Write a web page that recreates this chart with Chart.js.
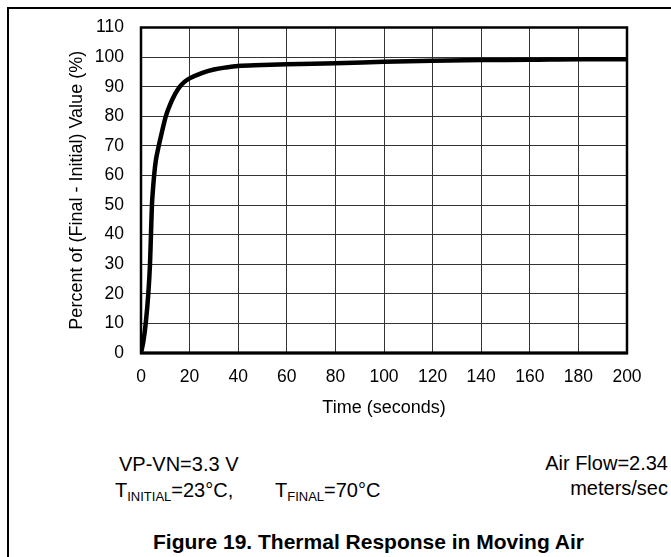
<!DOCTYPE html>
<html>
<head>
<meta charset="utf-8">
<script src="https://cdn.jsdelivr.net/npm/chart.js@4/dist/chart.umd.min.js"></script>
<style>
  html, body { margin: 0; padding: 0; background: #fff; }
  body { width: 671px; height: 557px; position: relative; overflow: hidden;
         font-family: "Liberation Sans", Arial, sans-serif; color: #000; }
  #frame { position: absolute; left: 7px; top: 7px; right: -2px; bottom: -2px;
           border-left: 2px solid #000; border-top: 2px solid #000; }
  #c { position: absolute; left: 0; top: 0; }
  .note { position: absolute; font-size: 20px; line-height: 20px; white-space: nowrap; }
  .note sub { font-size: 13px; vertical-align: -4px; line-height: 0; }
  #title { position: absolute; left: 153px; top: 531px;
           font-weight: bold; font-size: 21px; line-height: 21px; white-space: nowrap; }
</style>
</head>
<body>
<div id="frame"></div>
<canvas id="c" width="671" height="430"></canvas>
<div class="note" style="left:119px; top:454px;">VP-VN=3.3 V</div>
<div class="note" style="left:115px; top:480px;">T<sub>INITIAL</sub>=23°C,</div>
<div class="note" style="left:275px; top:480px;">T<sub>FINAL</sub>=70°C</div>
<div class="note" style="right:3px; top:453px; text-align:right;">Air Flow=2.34</div>
<div class="note" style="right:3px; top:478px; text-align:right;">meters/sec</div>
<div id="title">Figure 19. Thermal Response in Moving Air</div>
<script>
// Data
const timeSeconds = [0, 1, 2, 3, 3.7, 4.1, 4.5, 4.9, 5.4, 6.1, 7.3, 8.7, 10.2, 12, 14, 16, 18, 20, 25, 30, 35, 40, 50, 60, 80, 100, 120, 140, 160, 180, 200];
const percentValue = [0, 4, 10.5, 20, 30, 40, 50, 55, 60, 65, 70, 75, 80, 84, 87.5, 90, 91.7, 92.8, 94.6, 95.8, 96.5, 97, 97.3, 97.6, 97.9, 98.4, 98.8, 99.0, 99.1, 99.3, 99.3];
const xTicks = [0, 20, 40, 60, 80, 100, 120, 140, 160, 180, 200];
const yTicks = [0, 10, 20, 30, 40, 50, 60, 70, 80, 90, 100, 110];
const xTitle = 'Time (seconds)';
const yTitle = 'Percent of (Final - Initial) Value (%)';

const points = timeSeconds.map((t, i) => ({ x: t, y: percentValue[i] }));
const FONT = '"Liberation Sans", Arial, sans-serif';

const frameBox = {
  id: 'frameBox',
  afterDraw(chart) {
    const { ctx, chartArea: a } = chart;
    ctx.save();
    ctx.strokeStyle = '#000';
    ctx.lineWidth = 2.5;
    ctx.strokeRect(a.left, a.top, a.right - a.left, a.bottom - a.top);
    ctx.lineWidth = 3;
    ctx.beginPath();
    ctx.moveTo(a.left - 1, a.bottom);
    ctx.lineTo(a.right + 1, a.bottom);
    ctx.stroke();
    ctx.restore();
  }
};

new Chart(document.getElementById('c'), {
  type: 'line',
  data: {
    datasets: [{
      data: points,
      borderColor: '#000',
      borderWidth: 4.5,
      pointRadius: 0,
      fill: false,
      cubicInterpolationMode: 'monotone'
    }]
  },
  options: {
    responsive: false,
    animation: false,
    devicePixelRatio: 1,
    layout: { padding: { left: 62, top: 22, right: 44, bottom: 0 } },
    plugins: { legend: { display: false }, tooltip: { enabled: false } },
    scales: {
      x: {
        type: 'linear', min: 0, max: 200,
        afterFit(s) { s.height = 77; },
        afterBuildTicks(s) { s.ticks = xTicks.map(v => ({ value: v })); },
        grid: { color: '#333', lineWidth: 1, drawTicks: false },
        border: { display: false },
        ticks: { color: '#000', padding: 13.5, font: { family: FONT, size: 17.5 }, maxRotation: 0 },
        title: { display: true, text: xTitle, color: '#000', font: { family: FONT, size: 18 }, padding: { top: 0, bottom: 11 } }
      },
      y: {
        min: 0, max: 110,
        afterFit(s) { s.width = 79; },
        afterBuildTicks(s) { s.ticks = yTicks.map(v => ({ value: v })); },
        grid: { color: '#333', lineWidth: 1, drawTicks: false },
        border: { display: false },
        ticks: { color: '#000', padding: 17, font: { family: FONT, size: 17.5 } },
        title: { display: true, text: yTitle, color: '#000', font: { family: FONT, size: 18 }, padding: { top: 4, bottom: 0 } }
      }
    }
  },
  plugins: [frameBox]
});
</script>
</body>
</html>
